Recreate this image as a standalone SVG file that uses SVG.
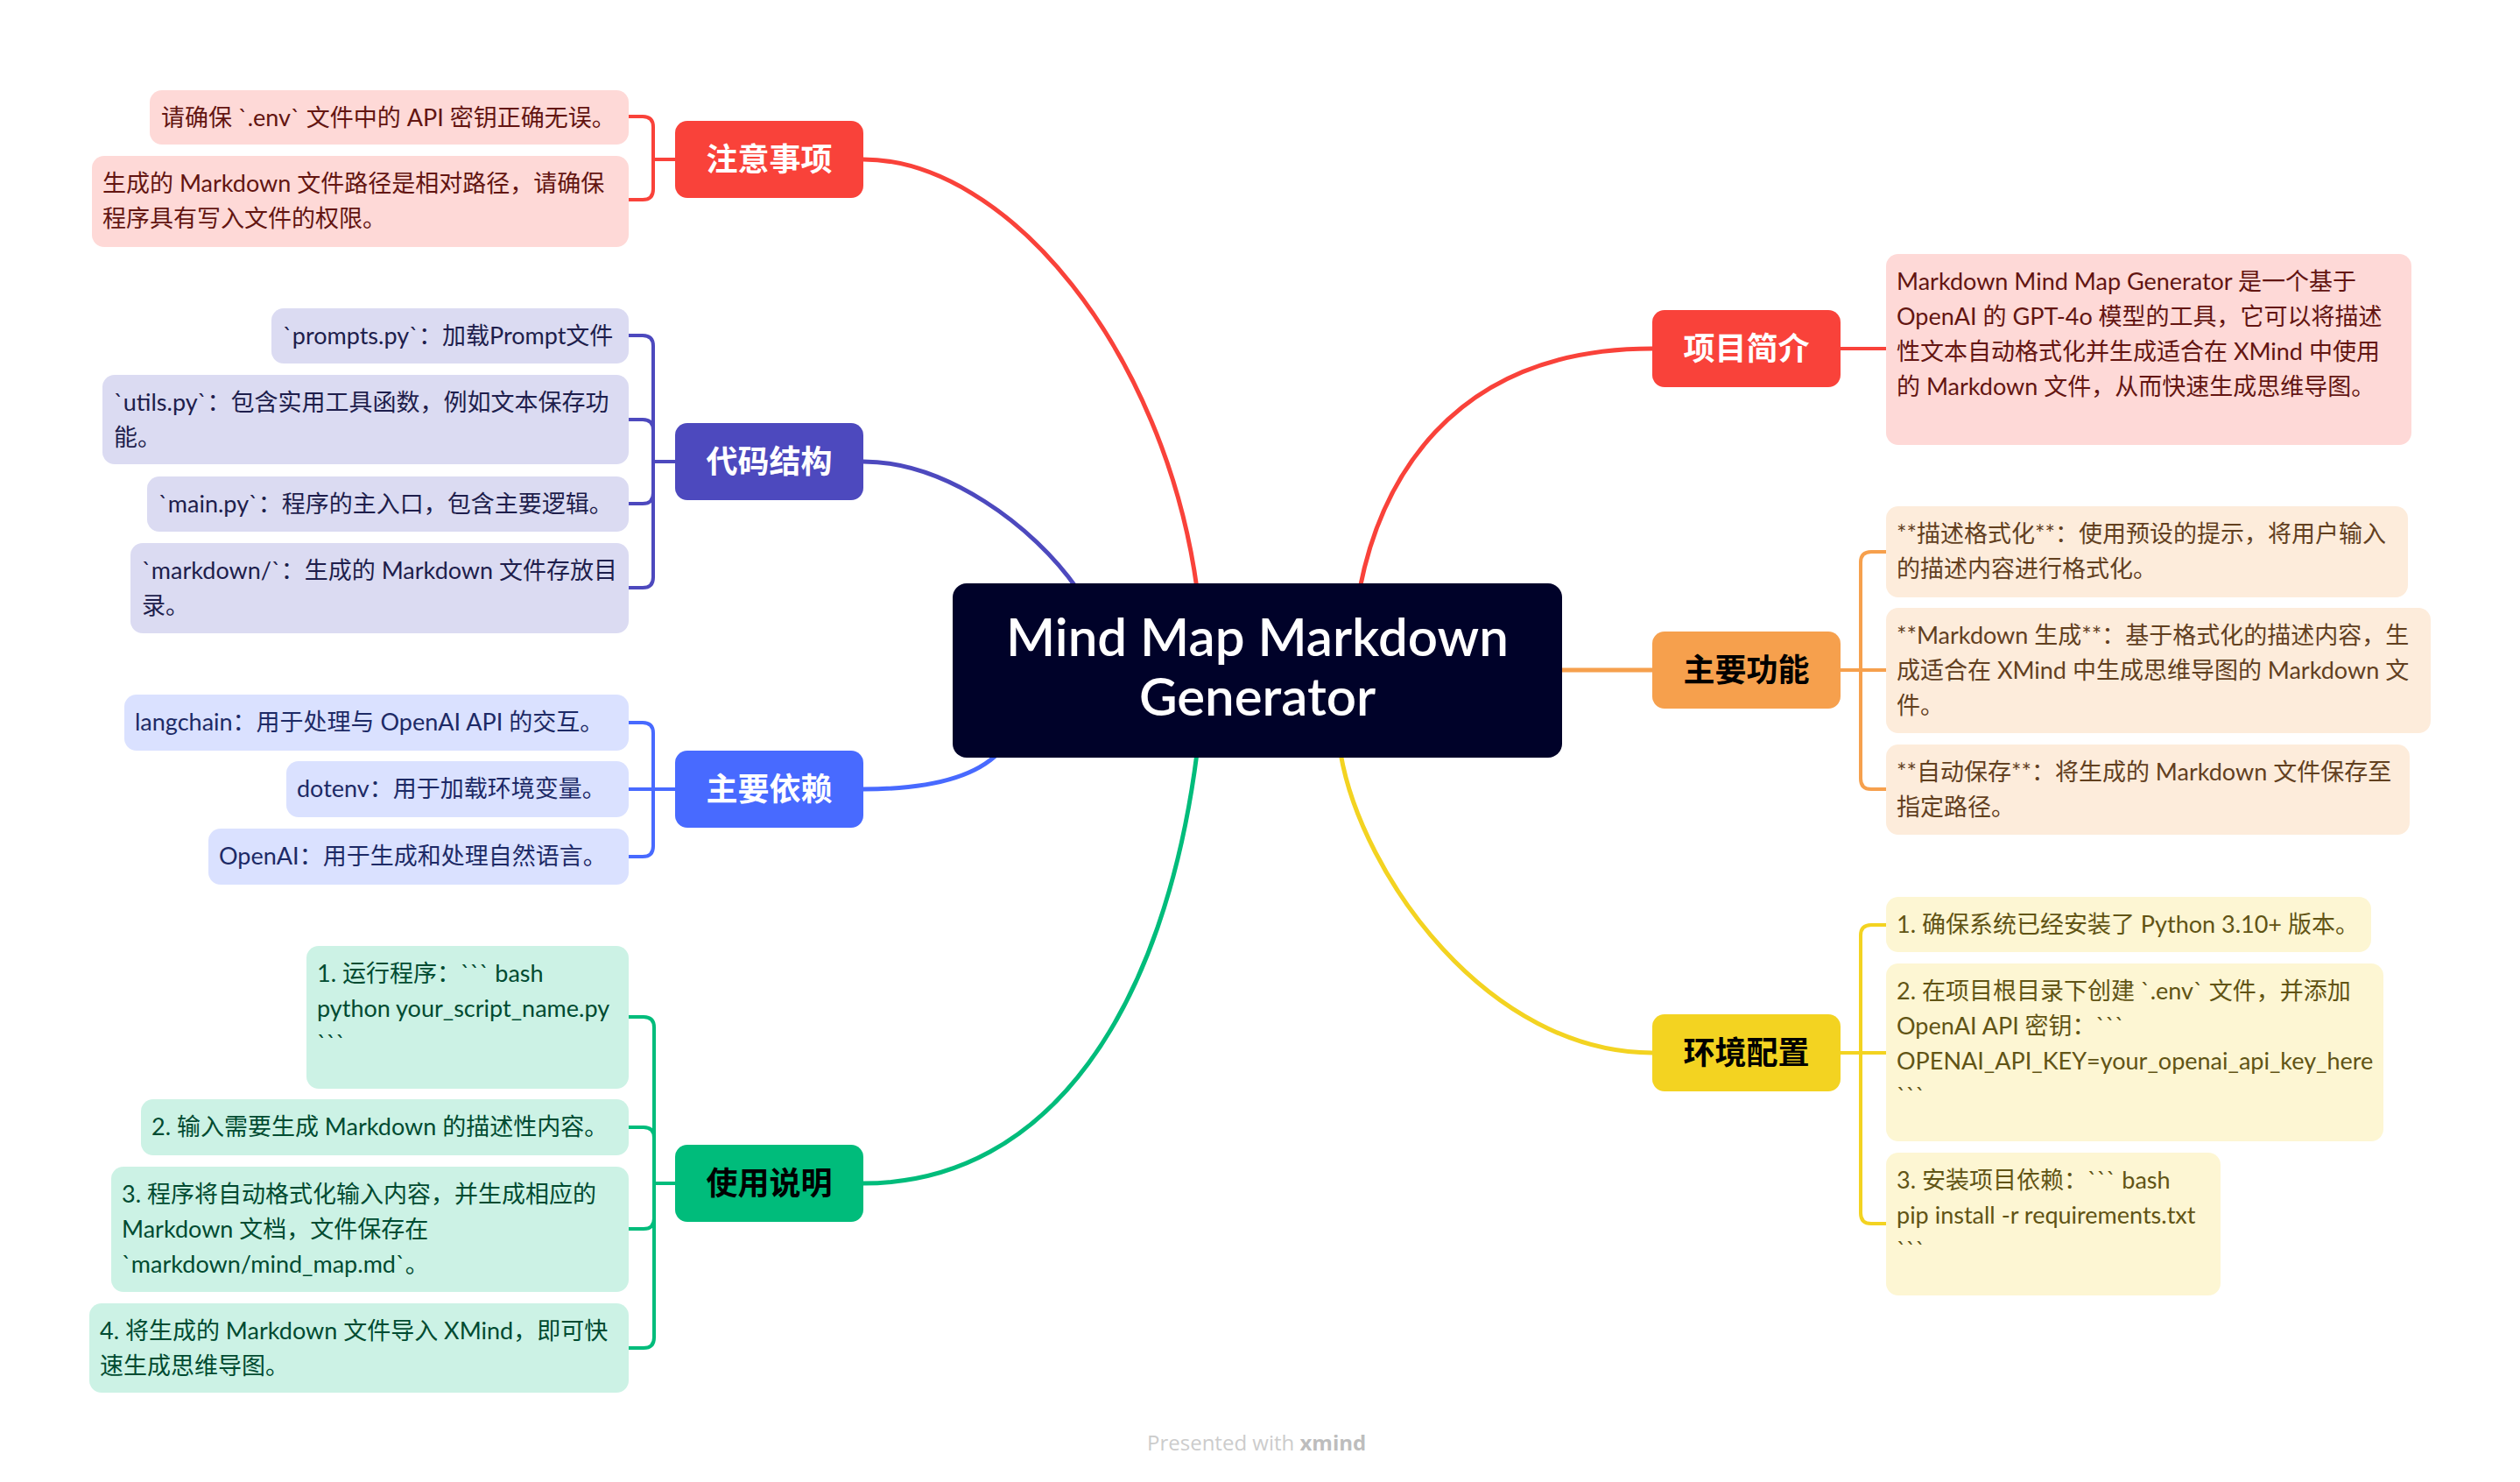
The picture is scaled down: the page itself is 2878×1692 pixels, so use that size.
<svg xmlns="http://www.w3.org/2000/svg" width="2878" height="1692" viewBox="0 0 2878 1692">
<style>
text{font-family:"Lato","Noto Sans CJK SC","Noto Sans",sans-serif;}
.sub{font-size:27px;}
.mt{font-size:36px;font-weight:700;text-anchor:middle;font-family:"Noto Sans CJK SC","Lato",sans-serif;}
.w{fill:#FFFFFF;}
.k{fill:#000000;}
.ln{fill:none;stroke-width:5;stroke-linecap:round;}
.br{fill:none;stroke-width:4;stroke-linecap:round;stroke-linejoin:round;}
.cR{stroke:#F9423A;} .cO{stroke:#F6A04D;} .cY{stroke:#F3D321;} .cG{stroke:#00BC7B;} .cB{stroke:#486AFF;} .cI{stroke:#4D49BE;}
.sR rect{fill:#FED9D7;} .sR text{fill:#631511;}
.sO rect{fill:#FDECDB;} .sO text{fill:#62401F;}
.sY rect{fill:#FDF6D3;} .sY text{fill:#615415;}
.sG rect{fill:#CCF2E5;} .sG text{fill:#004B31;}
.sB rect{fill:#DAE1FF;} .sB text{fill:#1D2A66;}
.sI rect{fill:#DBDBF2;} .sI text{fill:#1E1E4C;}
</style>
<rect width="2878" height="1692" fill="#FFFFFF"/>
<g id="connectors">
  <path class="ln cR" d="M986,182 C1150,182 1330,400 1367,672"/>
  <path class="ln cI" d="M986,527 C1080,527 1180,600 1230,672"/>
  <path class="ln cB" d="M986,901 C1060,901 1112,888 1140,860"/>
  <path class="ln cG" d="M986,1351 C1200,1351 1330,1150 1367,860"/>
  <path class="ln cR" d="M1887,398 C1650,398 1575,560 1553,672"/>
  <path class="ln cO" d="M1780,765 H1887"/>
  <path class="ln cY" d="M1887,1202 C1700,1202 1555,1000 1531,860"/>
  <path class="br cR" d="M718,133 H734 Q746,133 746,145 V182 M718,228 H734 Q746,228 746,216 V182 M746,182 H771"/>
  <path class="br cI" d="M718,383 H734 Q746,383 746,395 V527 M718,479 H734 Q746,479 746,491 V527 M718,575 H734 Q746,575 746,563 V527 M718,671 H734 Q746,671 746,659 V527 M746,527 H771"/>
  <path class="br cB" d="M718,825 H734 Q746,825 746,837 V901 M718,901 H771 M718,978 H734 Q746,978 746,966 V901"/>
  <path class="br cG" d="M718,1161 H735 Q747,1161 747,1173 V1351 M718,1287 H735 Q747,1287 747,1299 V1351 M718,1403 H735 Q747,1403 747,1391 V1351 M718,1539 H735 Q747,1539 747,1527 V1351 M747,1351 H771"/>
  <path class="br cR" d="M2100,398 H2154"/>
  <path class="br cO" d="M2154,630 H2137 Q2125,630 2125,642 V765 M2100,765 H2154 M2154,901 H2137 Q2125,901 2125,889 V765"/>
  <path class="br cY" d="M2154,1056 H2137 Q2125,1056 2125,1068 V1202 M2100,1202 H2154 M2154,1397 H2137 Q2125,1397 2125,1385 V1202"/>
</g>
<g id="central">
  <rect x="1088" y="666" width="696" height="199" rx="16" fill="#000229"/>
  <text x="1436" y="749" font-size="60" font-weight="600" fill="#FFFFFF" text-anchor="middle">Mind Map Markdown</text>
  <text x="1436" y="817" font-size="60" font-weight="600" fill="#FFFFFF" text-anchor="middle">Generator</text>
</g>
<g id="topic-zhuyi">
  <rect x="771" y="138" width="215" height="88" rx="14" fill="#F9423A"/>
  <text class="mt w" x="878.5" y="195">注意事项</text>
</g>
<g id="topic-daima">
  <rect x="771" y="483" width="215" height="88" rx="14" fill="#4D49BE"/>
  <text class="mt w" x="878.5" y="540">代码结构</text>
</g>
<g id="topic-yilai">
  <rect x="771" y="857" width="215" height="88" rx="14" fill="#486AFF"/>
  <text class="mt w" x="878.5" y="914">主要依赖</text>
</g>
<g id="topic-shiyong">
  <rect x="771" y="1307" width="215" height="88" rx="14" fill="#00BC7B"/>
  <text class="mt k" x="878.5" y="1364">使用说明</text>
</g>
<g id="topic-jianjie">
  <rect x="1887" y="354" width="215" height="88" rx="14" fill="#F9423A"/>
  <text class="mt w" x="1994.5" y="411">项目简介</text>
</g>
<g id="topic-gongneng">
  <rect x="1887" y="721" width="215" height="88" rx="14" fill="#F6A04D"/>
  <text class="mt k" x="1994.5" y="778">主要功能</text>
</g>
<g id="topic-huanjing">
  <rect x="1887" y="1158" width="215" height="88" rx="14" fill="#F3D321"/>
  <text class="mt k" x="1994.5" y="1215">环境配置</text>
</g>
<g id="zhuyi-1" class="sR">
  <rect x="171" y="103" width="547" height="62" rx="14"/>
  <text class="sub" x="184" y="144">请确保 `.env` 文件中的 API 密钥正确无误。</text>
</g>
<g id="zhuyi-2" class="sR">
  <rect x="105" y="178" width="613" height="104" rx="14"/>
  <text class="sub" x="117" y="219">生成的 Markdown 文件路径是相对路径，请确保</text>
  <text class="sub" x="117" y="259">程序具有写入文件的权限。</text>
</g>
<g id="daima-1" class="sI">
  <rect x="310" y="352" width="408" height="63" rx="14"/>
  <text class="sub" x="323" y="393">`prompts.py`：加载Prompt文件</text>
</g>
<g id="daima-2" class="sI">
  <rect x="117" y="428" width="601" height="102" rx="14"/>
  <text class="sub" x="130" y="469">`utils.py`：包含实用工具函数，例如文本保存功</text>
  <text class="sub" x="130" y="509">能。</text>
</g>
<g id="daima-3" class="sI">
  <rect x="168" y="544" width="550" height="63" rx="14"/>
  <text class="sub" x="181" y="585">`main.py`：程序的主入口，包含主要逻辑。</text>
</g>
<g id="daima-4" class="sI">
  <rect x="149" y="620" width="569" height="103" rx="14"/>
  <text class="sub" x="162" y="661">`markdown/`：生成的 Markdown 文件存放目</text>
  <text class="sub" x="162" y="701">录。</text>
</g>
<g id="yilai-1" class="sB">
  <rect x="142" y="793" width="576" height="64" rx="14"/>
  <text class="sub" x="154" y="834">langchain：用于处理与 OpenAI API 的交互。</text>
</g>
<g id="yilai-2" class="sB">
  <rect x="327" y="869" width="391" height="64" rx="14"/>
  <text class="sub" x="339" y="910">dotenv：用于加载环境变量。</text>
</g>
<g id="yilai-3" class="sB">
  <rect x="238" y="946" width="480" height="64" rx="14"/>
  <text class="sub" x="250" y="987">OpenAI：用于生成和处理自然语言。</text>
</g>
<g id="shiyong-1" class="sG">
  <rect x="350" y="1080" width="368" height="163" rx="14"/>
  <text class="sub" x="362" y="1121">1. 运行程序：``` bash</text>
  <text class="sub" x="362" y="1161">python your_script_name.py</text>
  <text class="sub" x="362" y="1201">```</text>
</g>
<g id="shiyong-2" class="sG">
  <rect x="161" y="1255" width="557" height="64" rx="14"/>
  <text class="sub" x="173" y="1296">2. 输入需要生成 Markdown 的描述性内容。</text>
</g>
<g id="shiyong-3" class="sG">
  <rect x="127" y="1332" width="591" height="143" rx="14"/>
  <text class="sub" x="139" y="1373">3. 程序将自动格式化输入内容，并生成相应的</text>
  <text class="sub" x="139" y="1413">Markdown 文档，文件保存在</text>
  <text class="sub" x="139" y="1453">`markdown/mind_map.md`。</text>
</g>
<g id="shiyong-4" class="sG">
  <rect x="102" y="1488" width="616" height="102" rx="14"/>
  <text class="sub" x="114" y="1529">4. 将生成的 Markdown 文件导入 XMind，即可快</text>
  <text class="sub" x="114" y="1569">速生成思维导图。</text>
</g>
<g id="jianjie-1" class="sR">
  <rect x="2154" y="290" width="600" height="218" rx="14"/>
  <text class="sub" x="2166" y="331">Markdown Mind Map Generator 是一个基于</text>
  <text class="sub" x="2166" y="371">OpenAI 的 GPT-4o 模型的工具，它可以将描述</text>
  <text class="sub" x="2166" y="411">性文本自动格式化并生成适合在 XMind 中使用</text>
  <text class="sub" x="2166" y="451">的 Markdown 文件，从而快速生成思维导图。</text>
</g>
<g id="gongneng-1" class="sO">
  <rect x="2154" y="578" width="596" height="104" rx="14"/>
  <text class="sub" x="2166" y="619">**描述格式化**：使用预设的提示，将用户输入</text>
  <text class="sub" x="2166" y="659">的描述内容进行格式化。</text>
</g>
<g id="gongneng-2" class="sO">
  <rect x="2154" y="694" width="622" height="143" rx="14"/>
  <text class="sub" x="2166" y="735">**Markdown 生成**：基于格式化的描述内容，生</text>
  <text class="sub" x="2166" y="775">成适合在 XMind 中生成思维导图的 Markdown 文</text>
  <text class="sub" x="2166" y="815">件。</text>
</g>
<g id="gongneng-3" class="sO">
  <rect x="2154" y="850" width="598" height="103" rx="14"/>
  <text class="sub" x="2166" y="891">**自动保存**：将生成的 Markdown 文件保存至</text>
  <text class="sub" x="2166" y="931">指定路径。</text>
</g>
<g id="huanjing-1" class="sY">
  <rect x="2154" y="1024" width="554" height="63" rx="14"/>
  <text class="sub" x="2166" y="1065">1. 确保系统已经安装了 Python 3.10+ 版本。</text>
</g>
<g id="huanjing-2" class="sY">
  <rect x="2154" y="1100" width="568" height="203" rx="14"/>
  <text class="sub" x="2166" y="1141">2. 在项目根目录下创建 `.env` 文件，并添加</text>
  <text class="sub" x="2166" y="1181">OpenAI API 密钥：```</text>
  <text class="sub" x="2166" y="1221">OPENAI_API_KEY=your_openai_api_key_here</text>
  <text class="sub" x="2166" y="1261">```</text>
</g>
<g id="huanjing-3" class="sY">
  <rect x="2154" y="1316" width="382" height="163" rx="14"/>
  <text class="sub" x="2166" y="1357">3. 安装项目依赖：``` bash</text>
  <text class="sub" x="2166" y="1397">pip install -r requirements.txt</text>
  <text class="sub" x="2166" y="1437">```</text>
</g>
<text x="1310" y="1656" font-size="24" fill="#CCCCCC" style="font-family:'Open Sans','Lato',sans-serif">Presented with <tspan font-weight="700" fill="#BDBDBD">xmind</tspan></text>
</svg>
